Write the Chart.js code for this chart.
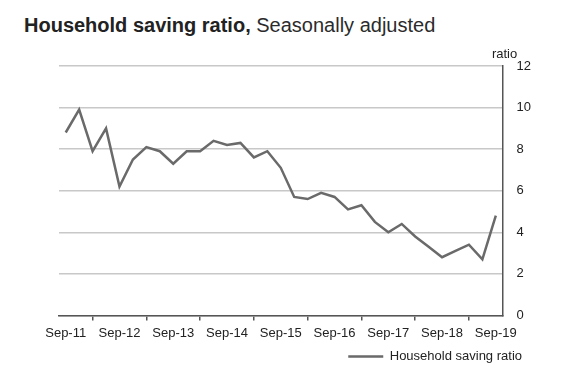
<!DOCTYPE html>
<html>
<head>
<meta charset="utf-8">
<script src="https://cdn.jsdelivr.net/npm/chart.js@4/dist/chart.umd.min.js"></script>
<style>
    html, body { margin: 0; padding: 0; background: #fff; }
    #wrap { position: relative; width: 566px; height: 376px; }
    #title {
        position: absolute; left: 24px; top: 13px;
        font-family: 'Liberation Sans', Arial, sans-serif;
        font-size: 20px; line-height: 24px; color: #2b2b2b; white-space: nowrap;
    }
    #title b { color: #222; }
    canvas { position: absolute; left: 0; top: 0; }
</style>
</head>
<body>
<div id="wrap">
    <div id="title"><b>Household saving ratio,</b> Seasonally adjusted</div>
    <canvas id="savingChart" width="566" height="376"></canvas>
</div>
<script>
// quarters, Sep-11 .. Sep-19
const quarters = [
    'Sep-11', 'Dec-11', 'Mar-12', 'Jun-12',
    'Sep-12', 'Dec-12', 'Mar-13', 'Jun-13',
    'Sep-13', 'Dec-13', 'Mar-14', 'Jun-14',
    'Sep-14', 'Dec-14', 'Mar-15', 'Jun-15',
    'Sep-15', 'Dec-15', 'Mar-16', 'Jun-16',
    'Sep-16', 'Dec-16', 'Mar-17', 'Jun-17',
    'Sep-17', 'Dec-17', 'Mar-18', 'Jun-18',
    'Sep-18', 'Dec-18', 'Mar-19', 'Jun-19',
    'Sep-19'
];

const savingRatio = [
    8.8, 9.9, 7.9, 9.0,
    6.2, 7.5, 8.1, 7.9,
    7.3, 7.9, 7.9, 8.4,
    8.2, 8.3, 7.6, 7.9,
    7.1, 5.7, 5.6, 5.9,
    5.7, 5.1, 5.3, 4.5,
    4.0, 4.4, 3.8, 3.3,
    2.8, 3.1, 3.4, 2.7,
    4.8
];

const yTicks = [0, 2, 4, 6, 8, 10, 12];

const FONT = "'Liberation Sans', Arial, sans-serif";
const TEXT = '#222';
const AXIS = '#555';

// small "ratio" unit label above the right axis,
// and pull the legend in a bit from the canvas edge
const unitLabel = {
    id: 'unitLabel',
    afterLayout(chart) {
        chart.legend.right -= 18;
        chart.legend.top -= 1;
    },
    afterDraw(chart) {
        const ctx = chart.ctx;
        const area = chart.chartArea;
        ctx.save();
        ctx.font = '13px ' + FONT;
        ctx.fillStyle = TEXT;
        ctx.textAlign = 'center';
        ctx.textBaseline = 'middle';
        ctx.fillText('ratio', area.right + 2, area.top - 12);
        ctx.restore();
    }
};

const ctx = document.getElementById('savingChart').getContext('2d');

new Chart(ctx, {
    type: 'line',
    data: {
        labels: quarters,
        datasets: [{
            label: 'Household saving ratio',
            data: savingRatio,
            borderColor: '#6a6a6a',
            backgroundColor: '#6a6a6a',
            borderWidth: 2.5,
            pointRadius: 0,
            tension: 0,
        }]
    },
    options: {
        responsive: false,
        animation: false,
        layout: {
            padding: { top: 66, left: 59, right: 21, bottom: 2 }
        },
        plugins: {
            legend: {
                position: 'bottom',
                align: 'end',
                labels: {
                    boxWidth: 35,
                    boxHeight: 0,
                    color: TEXT,
                    font: { family: FONT, size: 13 },
                    padding: 5,
                }
            },
            title: { display: false },
            tooltip: { enabled: false },
        },
        scales: {
            x: {
                offset: true,
                grid: {
                    offset: true,
                    drawOnChartArea: false,
                    drawTicks: true,
                    tickLength: 5,
                    color: AXIS,
                    lineWidth: 1.5,
                },
                border: { display: true, color: AXIS, width: 1.5 },
                ticks: {
                    autoSkip: false,
                    maxRotation: 0,
                    color: TEXT,
                    font: { family: FONT, size: 13 },
                    padding: 5,
                    callback: function (value, index) {
                        const lbl = quarters[index];
                        return lbl.startsWith('Sep') ? lbl : null;
                    }
                }
            },
            y: {
                position: 'right',
                min: yTicks[0],
                max: yTicks[yTicks.length - 1],
                afterBuildTicks: (scale) => {
                    scale.ticks = yTicks.map((v) => ({ value: v }));
                },
                grid: {
                    color: '#c8c8c8',
                    lineWidth: 1.5,
                    drawTicks: false,
                    tickLength: 0,
                },
                border: { display: true, color: AXIS, width: 1.5 },
                ticks: {
                    color: TEXT,
                    font: { family: FONT, size: 13 },
                    padding: 14,
                }
            }
        }
    },
    plugins: [unitLabel]
});
</script>
</body>
</html>
